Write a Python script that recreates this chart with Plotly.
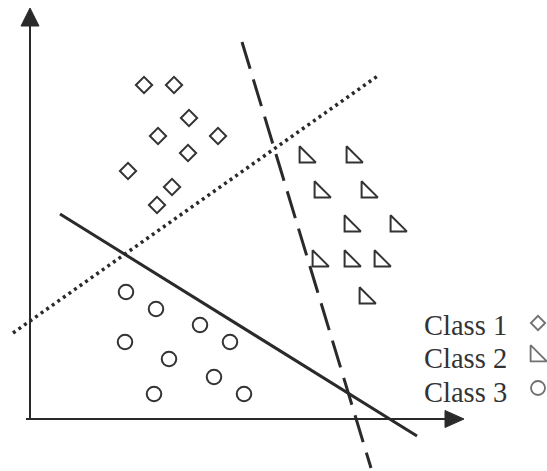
import plotly.graph_objects as go

# ---- data (arbitrary feature units) ----
class1_x = [11.4, 14.4, 15.9, 12.8, 18.8, 15.8, 9.8, 14.2, 12.7]
class1_y = [33.4, 33.4, 30.1, 28.3, 28.3, 26.6, 24.8, 23.2, 21.4]

class2_x = [27.5, 32.2, 29.0, 33.7, 32.0, 36.6, 28.8, 32.0, 35.0, 33.5]
class2_y = [26.2, 26.2, 22.7, 22.7, 19.3, 19.3, 15.8, 15.8, 15.8, 12.1]

class3_x = [9.6, 12.6, 17.0, 20.0, 9.5, 13.9, 18.4, 12.4, 21.4]
class3_y = [12.7, 11.0, 9.4, 7.7, 7.7, 6.0, 4.2, 2.5, 2.5]

# decision boundaries (end points)
solid_x = [3.0, 38.7]
solid_y = [20.5, -1.7]
dotted_x = [-1.7, 34.9]
dotted_y = [8.6, 34.4]
dashed_x = [21.2, 34.1]
dashed_y = [37.7, -4.9]

legend_labels = ["Class 1", "Class 2", "Class 3"]
legend_text_x = 39.2
legend_text_y = [9.4, 6.1, 2.7]
legend_sym_x = [50.8, 50.6, 50.8]
legend_sym_y = [9.6, 6.3, 3.1]

# axis geometry
X_END, X_TIP = 41.5, 43.4
Y_END, Y_TIP = 39.3, 41.1

INK = "#2a2a2a"
MK = "#333333"

fig = go.Figure()

# boundaries
fig.add_trace(go.Scatter(x=solid_x, y=solid_y, mode="lines",
                         line=dict(color=INK, width=3), hoverinfo="skip"))
fig.add_trace(go.Scatter(x=dotted_x, y=dotted_y, mode="lines",
                         line=dict(color=INK, width=3.5, dash="3px,3.8px"), hoverinfo="skip"))
fig.add_trace(go.Scatter(x=dashed_x, y=dashed_y, mode="lines",
                         line=dict(color=INK, width=3, dash="28px,11px"), hoverinfo="skip"))

# classes
fig.add_trace(go.Scatter(x=class1_x, y=class1_y, mode="markers", name="Class 1",
                         marker=dict(symbol="diamond-open", size=12.5, color=MK,
                                     line=dict(width=2, color=MK))))
fig.add_trace(go.Scatter(x=class2_x, y=class2_y, mode="markers", name="Class 2",
                         marker=dict(symbol="triangle-sw-open", size=18, color=MK,
                                     line=dict(width=2, color=MK))))
fig.add_trace(go.Scatter(x=class3_x, y=class3_y, mode="markers", name="Class 3",
                         marker=dict(symbol="circle-open", size=14.5, color=MK,
                                     line=dict(width=2, color=MK))))

# legend keys
fig.add_trace(go.Scatter(x=legend_sym_x, y=legend_sym_y, mode="markers",
                         marker=dict(symbol=["diamond-open", "triangle-sw-open", "circle-open"],
                                     size=[11, 18, 14], color=MK,
                                     line=dict(width=1.8, color=MK)),
                         cliponaxis=False, hoverinfo="skip"))

for lab, ty in zip(legend_labels, legend_text_y):
    fig.add_annotation(x=legend_text_x, y=ty, text=lab, showarrow=False,
                       xanchor="left", yanchor="middle",
                       font=dict(family="Liberation Serif, Times New Roman, serif",
                                 size=28.5, color="#333333"))

# axes with arrows
shapes = [
    dict(type="line", x0=0, y0=0, x1=0, y1=Y_END, line=dict(color=INK, width=2)),
    dict(type="line", x0=-0.4, y0=0, x1=X_END, y1=0, line=dict(color=INK, width=2)),
    dict(type="path", path=f"M 0,{Y_TIP} L -0.9,{Y_END} L 0.9,{Y_END} Z",
         fillcolor=INK, line=dict(color=INK, width=1)),
    dict(type="path", path=f"M {X_TIP},0 L {X_END},-0.85 L {X_END},0.85 Z",
         fillcolor=INK, line=dict(color=INK, width=1)),
]

fig.update_layout(
    width=547, height=471,
    margin=dict(l=0, r=0, t=0, b=0),
    paper_bgcolor="white", plot_bgcolor="white",
    showlegend=False,
    hovermode=False,
    shapes=shapes,
    xaxis=dict(range=[-3.0, 51.7], visible=False, fixedrange=True),
    yaxis=dict(range=[-5.2, 41.9], visible=False, fixedrange=True),
)

fig.write_html(
    "out.html",
    config={"displayModeBar": False},
    post_script="document.body.style.margin='0';document.body.style.overflow='hidden';",
)
